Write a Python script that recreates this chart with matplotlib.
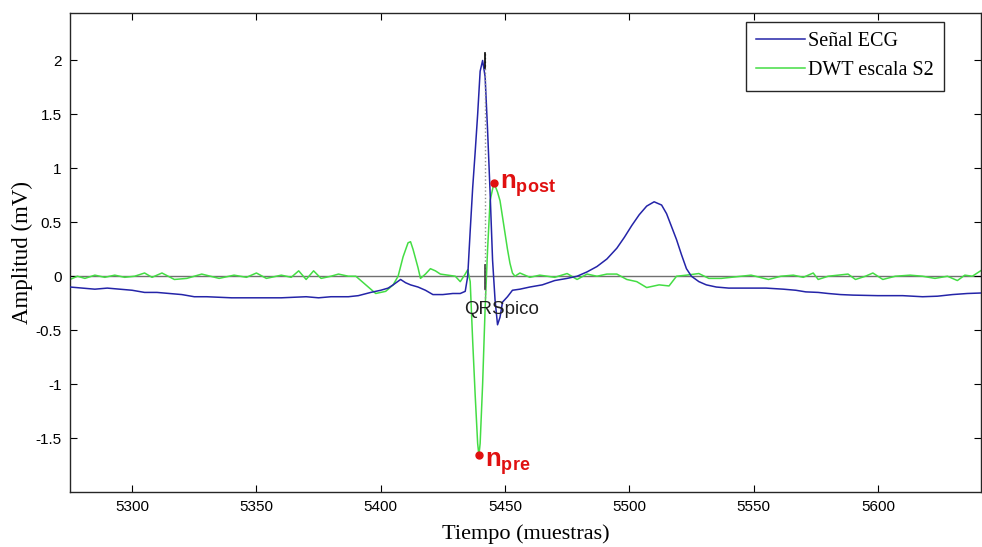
import matplotlib
matplotlib.use('Agg')
from matplotlib import pyplot as plt

# senal ECG (muestras, mV)
ecg_t = [5275, 5280, 5285, 5290, 5295, 5300, 5305, 5310, 5315, 5320, 5325, 5330,
         5340, 5350, 5360, 5370, 5375, 5380, 5387, 5391, 5396, 5400, 5403, 5405,
         5408, 5410, 5412, 5415, 5418, 5421, 5425, 5429, 5432, 5434, 5435, 5436,
         5437, 5438, 5439, 5440, 5441, 5442, 5443, 5444, 5445, 5446, 5447, 5448,
         5449, 5451, 5453, 5456, 5460, 5465, 5470, 5475, 5479, 5483, 5487, 5491,
         5495, 5498, 5501, 5504, 5507, 5510, 5513, 5515, 5517, 5519, 5521, 5523,
         5525, 5528, 5531, 5535, 5540, 5548, 5555, 5562, 5567, 5571, 5576, 5580,
         5585, 5590, 5600, 5610, 5618, 5624, 5630, 5636, 5642]
ecg_v = [-0.10, -0.11, -0.12, -0.11, -0.12, -0.13, -0.15, -0.15, -0.16, -0.17, -0.19, -0.19,
         -0.20, -0.20, -0.20, -0.19, -0.20, -0.19, -0.19, -0.18, -0.15, -0.13, -0.11, -0.08,
         -0.03, -0.06, -0.08, -0.10, -0.13, -0.17, -0.17, -0.16, -0.16, -0.14, 0.0, 0.42,
         0.82, 1.15, 1.5, 1.9, 2.0, 1.85, 1.35, 0.78, 0.15, -0.22, -0.45, -0.38,
         -0.24, -0.19, -0.13, -0.12, -0.10, -0.08, -0.04, -0.02, 0.0, 0.04, 0.09, 0.16,
         0.26, 0.36, 0.47, 0.57, 0.65, 0.69, 0.66, 0.58, 0.46, 0.34, 0.20, 0.07,
         0.0, -0.05, -0.08, -0.10, -0.11, -0.11, -0.11, -0.12, -0.13, -0.145, -0.15, -0.16,
         -0.17, -0.175, -0.18, -0.18, -0.19, -0.185, -0.17, -0.16, -0.155]

# DWT escala S2
dwt_t = [5275, 5278, 5281, 5285, 5289, 5293, 5297, 5301, 5305, 5308, 5312, 5317,
         5322, 5328, 5335, 5341, 5346, 5350, 5354, 5360, 5364, 5367, 5370, 5373,
         5376, 5380, 5383, 5387, 5390, 5394, 5398, 5402, 5405, 5407, 5409, 5411,
         5412, 5413, 5415, 5416, 5418, 5420, 5422, 5424, 5427, 5430, 5432, 5434,
         5435, 5436, 5437, 5438, 5439, 5439.5, 5440, 5441, 5442, 5443, 5444, 5445.5,
         5446, 5447, 5448, 5449, 5450, 5451, 5452, 5453, 5454, 5456, 5460, 5464,
         5470, 5475, 5479, 5483, 5487, 5491, 5495, 5499, 5503, 5507, 5512, 5516,
         5519, 5523, 5528, 5532, 5537, 5541, 5545, 5549, 5556, 5561, 5566, 5570,
         5574, 5576, 5580, 5584, 5588, 5591, 5595, 5598, 5602, 5607, 5613, 5618,
         5623, 5628, 5632, 5635, 5638, 5642]
dwt_v = [-0.03, 0.0, -0.02, 0.01, -0.01, 0.01, -0.01, 0.0, 0.03, -0.01, 0.03, -0.03,
         -0.02, 0.02, -0.02, 0.01, -0.01, 0.03, -0.02, 0.01, -0.01, 0.05, -0.03, 0.05,
         -0.02, 0.0, 0.02, 0.0, 0.0, -0.08, -0.16, -0.14, -0.08, 0.0, 0.18, 0.31,
         0.32, 0.25, 0.08, -0.02, 0.02, 0.07, 0.05, 0.02, 0.01, 0.0, -0.05, 0.02,
         0.06, -0.05, -0.6, -1.1, -1.55, -1.66, -1.55, -1.0, -0.3, 0.25, 0.7, 0.86,
         0.84, 0.78, 0.70, 0.55, 0.40, 0.25, 0.12, 0.03, 0.0, 0.03, -0.01, 0.01,
         -0.01, 0.025, -0.03, 0.02, 0.0, 0.02, 0.02, -0.03, -0.05, -0.105, -0.08, -0.09,
         0.0, 0.01, 0.025, -0.02, -0.02, -0.01, 0.0, 0.01, -0.03, 0.0, 0.01, -0.01,
         0.03, -0.03, 0.0, 0.01, 0.02, -0.03, 0.0, 0.03, -0.03, 0.0, 0.01, 0.0,
         -0.02, 0.0, -0.04, 0.01, 0.0, 0.06]

qrs_x = 5442
qrs_y = 2.07
npre = (5439.5, -1.66)
npost = (5445.5, 0.86)

xticks = [5300, 5350, 5400, 5450, 5500, 5550, 5600]
yticks = [-1.5, -1, -0.5, 0, 0.5, 1, 1.5, 2]

plt.rcParams['font.family'] = ['Liberation Sans', 'DejaVu Sans']
plt.rcParams['mathtext.fontset'] = 'custom'
plt.rcParams['mathtext.bf'] = 'Liberation Sans:bold'
plt.rcParams['mathtext.rm'] = 'Liberation Sans'

fig = plt.figure(figsize=(9.82, 5.47), dpi=100)
ax = fig.add_axes([70 / 982, 55 / 547, 911 / 982, 479 / 547])

ax.axhline(0, color='#707070', lw=1.0, zorder=1)
ax.plot(ecg_t, ecg_v, color='#2424a8', lw=1.1, label='Señal ECG', zorder=3)
ax.plot(dwt_t, dwt_v, color='#44dd44', lw=1.1, label='DWT escala S2', zorder=2)

# marca del pico QRS
ax.plot([qrs_x, qrs_x], [-0.2, qrs_y], color='#909090', lw=1, ls=':', zorder=4)
ax.plot([qrs_x, qrs_x], [1.93, qrs_y], color='black', lw=1.2, zorder=4)
ax.plot([qrs_x, qrs_x], [-0.12, 0.1], color='#404040', lw=1.2, zorder=4)
ax.text(5448.5, -0.31, 'QRSpico', ha='center', va='center', fontsize=13.5, color='#202020', zorder=5)

ax.plot(*npre, 'o', color='#e01010', ms=5, zorder=6)
ax.plot(*npost, 'o', color='#e01010', ms=5, zorder=6)
ax.text(5442.0, -1.74, r'$\mathbf{n}_{\mathbf{pre}}$', color='#e01010', fontsize=18.5,
        ha='left', va='center')
ax.text(5448.0, 0.84, r'$\mathbf{n}_{\mathbf{post}}$', color='#e01010', fontsize=18.5,
        ha='left', va='center')

ax.set_xlim(5275, 5641.5)
ax.set_ylim(-2.0, 2.44)
ax.set_xticks(xticks)
ax.set_xticklabels([str(x) for x in xticks])
ax.set_yticks(yticks)
ax.set_yticklabels(['-1.5', '-1', '-0.5', '0', '0.5', '1', '1.5', '2'])
ax.tick_params(direction='in', length=5, top=True, right=True, labelsize=11, pad=6)
for s in ax.spines.values():
    s.set_linewidth(1.0)
    s.set_color('#262626')

ax.set_xlabel('Tiempo (muestras)', family='Liberation Serif', fontsize=16, labelpad=7)
ax.set_ylabel('Amplitud (mV)', family='Liberation Serif', fontsize=16.5, labelpad=2)

leg = ax.legend(loc='upper right', bbox_to_anchor=(0.959, 0.981), fancybox=False,
                framealpha=1, edgecolor='#262626', prop={'family': 'Liberation Serif', 'size': 14.5},
                handlelength=2.4, handletextpad=0.15, borderpad=0.5, labelspacing=0.5,
                borderaxespad=0)
leg.get_frame().set_linewidth(1.0)

fig.savefig('out.png', dpi=100)
